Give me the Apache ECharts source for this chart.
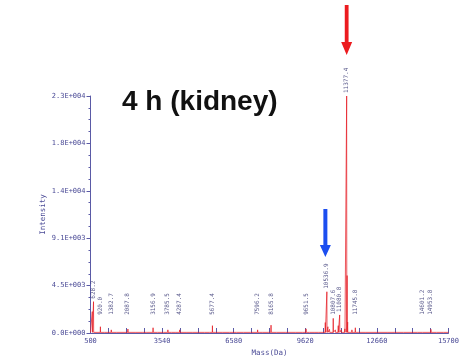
<!DOCTYPE html>
<html>
<head>
<meta charset="utf-8">
<script src="https://cdn.jsdelivr.net/npm/echarts@6/dist/echarts.min.js"></script>
<style>
  html, body { margin: 0; padding: 0; background: #fff; }
  #chart { width: 462px; height: 363px; }
</style>
</head>
<body>
<div id="chart"></div>
<script>
// Labelled peaks of the spectrum: mass (Da) and intensity
const peakMass = [628.2, 920.0, 1382.7, 2087.8, 3156.9, 3785.5, 4287.4, 5677.4, 7596.2, 8165.8,
                  9651.5, 10536.9, 10807.6, 11080.8, 11377.4, 11745.8, 14601.2, 14953.8];
const peakIntensity = [3000, 600, 300, 380, 500, 300, 300, 700, 300, 750,
                       400, 3950, 1400, 1730, 22700, 500, 230, 350];
const peakLabels = ['628.2', '920.0', '1382.7', '2087.8', '3156.9', '3785.5', '4287.4', '5677.4', '7596.2', '8165.8',
                    '9651.5', '10536.9', '10807.6', '11080.8', '11377.4', '11745.8', '14601.2', '14953.8'];

// Unlabelled minor peaks and shoulders
const minorMass = [576, 700, 1100, 1250, 1600, 1800, 2400, 2700, 2900, 3350, 3600, 3950, 4100, 4600, 4850,
                   5100, 5350, 5550, 5800, 6100, 6400, 6700, 7000, 7300, 7700, 7800, 8050, 8400, 8800,
                   9200, 9500, 9800, 10000, 10200, 10470, 10580, 10650, 10900, 11020, 11150, 11300,
                   11395, 11420, 11600, 11900, 12200, 12800, 13100, 13400, 13800, 14200, 14400, 15200, 15500];
const minorIntensity = [2050, 250, 150, 200, 150, 120, 130, 200, 180, 150, 200, 150, 130, 150, 200,
                        150, 130, 180, 200, 150, 200, 150, 180, 200, 250, 200, 180, 150, 130,
                        150, 200, 250, 150, 200, 1000, 600, 350, 300, 700, 300, 400,
                        5500, 1050, 300, 200, 150, 200, 150, 200, 150, 150, 180, 150, 130];
const baselineLevel = 60;

// Axis tick labels
const xTickLabels = [500, 3540, 6580, 9620, 12660, 15700];
const yTickValues = [0, 4540, 9080, 13620, 18160, 22700];
const yTickLabels = ['0.0E+000', '4.5E+003', '9.1E+003', '1.4E+004', '1.8E+004', '2.3E+004'];

const AXIS = '#5a5aa6';
const TXT = '#4a4a96';
const LBL = '#2c2c6c';
const RED = '#e51e25';
const MONO = '"DejaVu Sans Mono", "Liberation Mono", monospace';

// Build the stick spectrum (each peak rises from and returns to the baseline)
const allPeaks = peakMass.map((m, i) => [m, peakIntensity[i]])
  .concat(minorMass.map((m, i) => [m, minorIntensity[i]]))
  .sort((a, b) => a[0] - b[0]);
const half = 6;
const spectrum = [[xTickLabels[0], baselineLevel]];
allPeaks.forEach(([m, h]) => {
  spectrum.push([m - half, baselineLevel], [m, h], [m + half, baselineLevel]);
});
spectrum.push([xTickLabels[xTickLabels.length - 1], baselineLevel]);

// Tick marks: four divisions between labelled values
const xTicks = [];
for (let i = 0; i < xTickLabels.length - 1; i++) {
  const a = xTickLabels[i], b = xTickLabels[i + 1];
  for (let k = 0; k < 4; k++) xTicks.push(a + (b - a) * k / 4);
}
xTicks.push(xTickLabels[xTickLabels.length - 1]);

// Label anchors sit at the peak top, lifted to a minimum level for small peaks
const labelFloor = 1450;
const labelData = peakMass.map((m, i) => ({
  value: [m, Math.max(peakIntensity[i], labelFloor)],
  name: peakLabels[i]
}));

const chart = echarts.init(document.getElementById('chart'));
chart.setOption({
  animation: false,
  backgroundColor: '#ffffff',
  title: {
    text: '4 h (kidney)',
    left: 117,
    top: 83,
    textStyle: { fontSize: 28, fontWeight: 'bold', fontFamily: '"Liberation Sans", Arial, sans-serif', color: '#111' }
  },
  grid: { left: 90.5, right: 10.5, top: 96, bottom: 30 },
  xAxis: {
    type: 'value',
    min: xTickLabels[0],
    max: xTickLabels[xTickLabels.length - 1],
    name: 'Mass(Da)',
    nameLocation: 'middle',
    nameGap: 16,
    nameMoveOverlap: false,
    nameTextStyle: { color: TXT, fontSize: 7.5, fontFamily: MONO },
    axisLine: { lineStyle: { color: AXIS, width: 1 } },
    axisTick: { show: true, inside: true, length: 5, customValues: xTicks, lineStyle: { color: AXIS } },
    axisLabel: {
      customValues: xTickLabels, color: TXT, fontSize: 7, fontFamily: MONO, margin: 5,
      formatter: (v) => String(v)
    },
    splitLine: { show: false }
  },
  yAxis: {
    type: 'value',
    min: yTickValues[0],
    max: yTickValues[yTickValues.length - 1],
    interval: yTickValues[1] - yTickValues[0],
    name: 'Intensity',
    nameLocation: 'middle',
    nameGap: 43,
    nameMoveOverlap: false,
    nameTextStyle: { color: TXT, fontSize: 7.5, fontFamily: MONO },
    axisLine: { show: true, lineStyle: { color: AXIS, width: 1 } },
    axisTick: { show: true, inside: false, length: 4, lineStyle: { color: AXIS } },
    minorTick: { show: true, splitNumber: 4, length: 2, lineStyle: { color: AXIS } },
    axisLabel: {
      color: TXT, fontSize: 7, fontFamily: MONO, margin: 5,
      formatter: (v) => {
        const i = yTickValues.indexOf(v);
        return i >= 0 ? yTickLabels[i] : '';
      }
    },
    splitLine: { show: false }
  },
  series: [
    {
      type: 'line',
      data: spectrum,
      showSymbol: false,
      symbol: 'none',
      clip: false,
      lineStyle: { color: RED, width: 0.75 },
      z: 3
    },
    {
      type: 'scatter',
      data: labelData,
      symbolSize: 0,
      silent: true,
      label: {
        show: true,
        position: 'top',
        distance: 3,
        rotate: 90,
        align: 'left',
        verticalAlign: 'middle',
        formatter: (p) => p.name,
        color: LBL,
        fontSize: 6,
        fontFamily: MONO
      },
      z: 4
    }
  ]
});

// Arrows pointing at two peaks of interest
function arrow(cx, top, neck, tip, shaftHalf, headHalf, color) {
  return {
    type: 'polygon',
    shape: {
      points: [
        [cx - shaftHalf, top], [cx + shaftHalf, top], [cx + shaftHalf, neck],
        [cx + headHalf, neck], [cx, tip], [cx - headHalf, neck], [cx - shaftHalf, neck]
      ]
    },
    style: { fill: color },
    z: 10
  };
}
const xBlue = chart.convertToPixel({ xAxisIndex: 0 }, peakMass[11]) - 1.5;
const xRed = chart.convertToPixel({ xAxisIndex: 0 }, peakMass[14]);
chart.setOption({
  graphic: [
    arrow(xBlue, 209, 245, 257, 2, 5.5, '#1c4ef0'),
    arrow(xRed, 5, 42, 55, 1.9, 5.5, '#ec1b1f')
  ]
});
</script>
</body>
</html>
